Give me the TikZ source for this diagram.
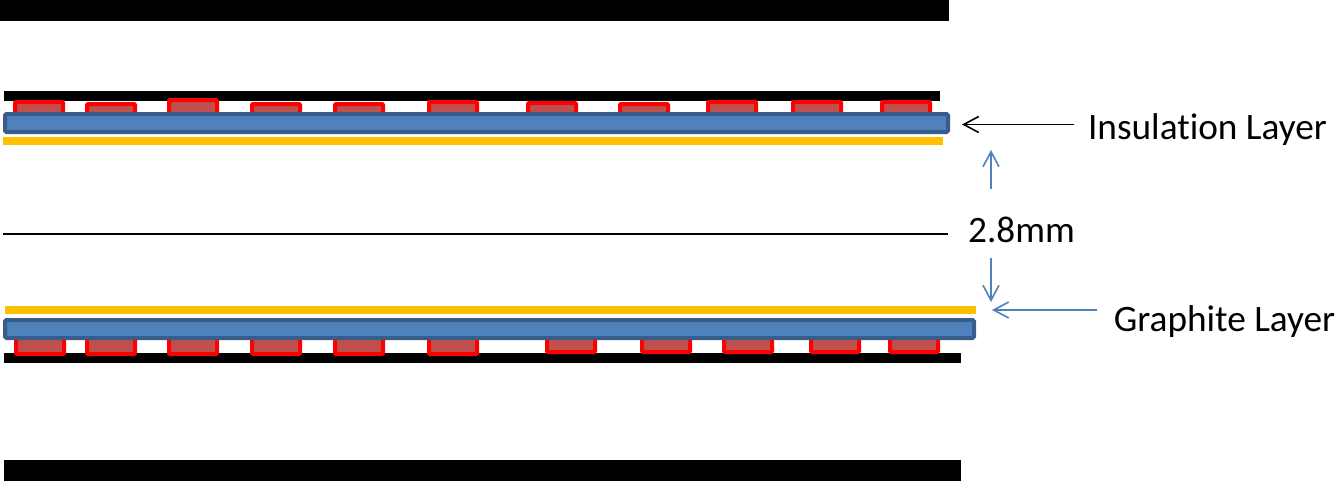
\documentclass[tikz,border=0pt]{standalone}
\usepackage{fontspec}
\setmainfont[Ligatures=NoCommon]{Carlito}
\usetikzlibrary{arrows.meta}
\definecolor{layerblue}{HTML}{4F81BD}
\definecolor{layeredge}{HTML}{385D8A}
\definecolor{chipfill}{HTML}{C0504D}
\definecolor{graphite}{HTML}{FFC000}
\begin{document}
\begin{tikzpicture}[x=1pt,y=-1pt]
    \useasboundingbox (0,0) rectangle (1341,485);
    \tikzstyle{plate}=[fill=black,inner sep=0pt]
    \tikzstyle{graphitelayer}=[fill=graphite,inner sep=0pt]
    \tikzstyle{insulation}=[draw=layeredge,fill=layerblue,line width=4pt,rounded corners=1.5pt,inner sep=0pt,minimum height=18pt]
    \tikzstyle{chip}=[draw=red,fill=chipfill,line width=4pt,rounded corners=1pt]
    \tikzstyle{layerlabel}=[font=\fontsize{37.3}{40}\selectfont,inner sep=0pt]
    \tikzstyle{barb}=[-{Straight Barb[length=15pt,width=16pt,line width=1.6pt]},line width=1.8pt]

    \node[plate,minimum width=949pt,minimum height=21pt] (plateT) at (474.5,10.5) {};
    \node[plate,minimum width=936pt,minimum height=10pt] (coverT) at (471.5,96) {};
    \node[plate,minimum width=957pt,minimum height=10pt] (coverB) at (482.5,358) {};
    \node[plate,minimum width=957pt,minimum height=21pt] (plateB) at (482.5,470.5) {};
    \node[plate,minimum width=945pt,minimum height=2pt] (mid) at (475.5,234) {};

    % upper row
    \foreach \cx/\cy in {13/100,85/102,167/98,250/102,333/102,427/100,526/101,618/102,706/100,791/100,880/100}
        \draw[chip] (\cx+2,\cy+2) rectangle (\cx+50,116);
    % lower row
    \foreach \cx/\cy in {14/356,85/356,167/356,250/356,333/356,427/356,545/354,640/354,722/354,809/354,888/354}
        \draw[chip] (\cx+2,336) rectangle (\cx+50,\cy-2);

    \node[insulation,minimum width=943pt] (blueT) at (476.5,123) {};
    \node[insulation,minimum width=969pt] (blueB) at (489.5,329) {};
    \node[graphitelayer,minimum width=940pt,minimum height=8pt] (yellowT) at (473,141) {};
    \node[graphitelayer,minimum width=971pt,minimum height=8pt] (yellowB) at (490.5,310) {};

    \node[layerlabel] (insLabel) at (1207.5,130) {Insulation Layer};
    \node[layerlabel] (gapLabel) at (1021.5,230) {2.8mm};
    \node[layerlabel] (graLabel) at (1224.5,322) {Graphite Layer};

    \coordinate (insTail) at (1074,124.5);
    \coordinate (insTip)  at (962,124.5);
    \coordinate (graTail) at (1097,310);
    \coordinate (graTip)  at (992,310);
    \coordinate (upTail)  at (991,189);
    \coordinate (upTip)   at (991,150);
    \coordinate (dnTail)  at (991,258);
    \coordinate (dnTip)   at (991,302);

    \draw[barb,black]  (insTail) -> (insTip);
    \draw[barb,layerblue] (graTail) -> (graTip);
    \draw[barb,layerblue] (upTail) -> (upTip);
    \draw[barb,layerblue] (dnTail) -> (dnTip);
\end{tikzpicture}
\end{document}
